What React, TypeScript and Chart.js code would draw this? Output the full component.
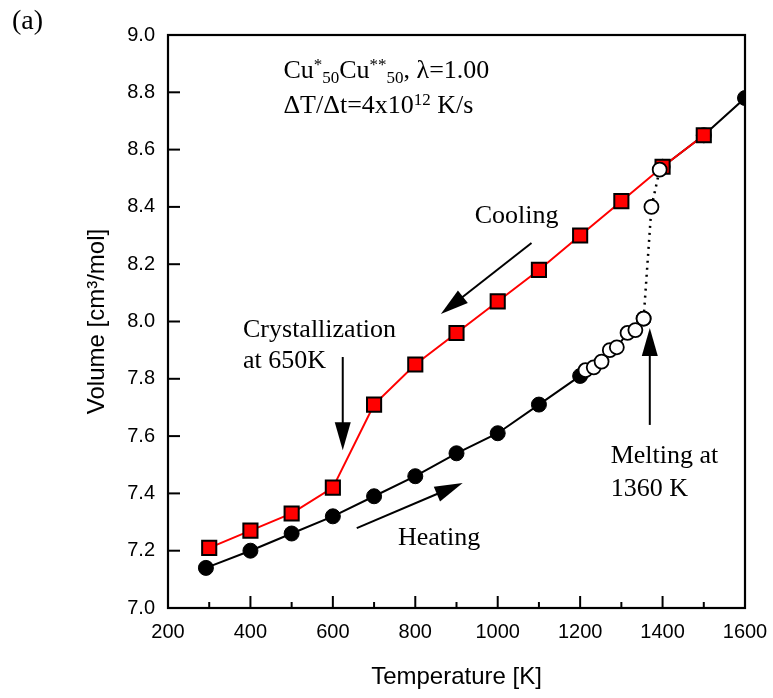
import React, { useEffect, useRef } from "react";
import { Chart, registerables } from "chart.js";

Chart.register(...registerables);

// ---- data ----
const coolingT = [300, 400, 500, 600, 700, 800, 900, 1000, 1100, 1200, 1300, 1400, 1500];
const coolingV = [7.21, 7.27, 7.33, 7.42, 7.71, 7.85, 7.96, 8.07, 8.18, 8.3, 8.42, 8.54, 8.65];

const heatingT = [292, 400, 500, 600, 700, 800, 900, 1000, 1100, 1200];
const heatingV = [7.14, 7.2, 7.26, 7.32, 7.39, 7.46, 7.54, 7.61, 7.71, 7.81];

const meltT = [1213, 1233, 1252, 1272, 1289, 1315, 1334, 1354];
const meltV = [7.83, 7.84, 7.86, 7.9, 7.91, 7.96, 7.97, 8.01];

const jumpT = [1354, 1373, 1393];
const jumpV = [8.01, 8.4, 8.53];

const liquidT = [1400, 1500, 1600];
const liquidV = [8.54, 8.65, 8.78];

const xTicks = [200, 400, 600, 800, 1000, 1200, 1400, 1600];
const yTicks = [7.0, 7.2, 7.4, 7.6, 7.8, 8.0, 8.2, 8.4, 8.6, 8.8, 9.0];

const SERIF = '"Liberation Serif", "Times New Roman", serif';
const SANS = '"Liberation Sans", Arial, sans-serif';

type Seg = { t: string; sup?: boolean; sub?: boolean };

// annotation texts (anchored in data coordinates: left x, baseline y)
const texts: { x: number; y: number; segs: Seg[] }[] = [
  {
    x: 480, y: 8.85,
    segs: [
      { t: "Cu" }, { t: "*", sup: true }, { t: "50", sub: true },
      { t: "Cu" }, { t: "**", sup: true }, { t: "50", sub: true },
      { t: ", λ=1.00" },
    ],
  },
  { x: 480, y: 8.728, segs: [{ t: "ΔT/Δt=4x10" }, { t: "12", sup: true }, { t: " K/s" }] },
  { x: 944, y: 8.344, segs: [{ t: "Cooling" }] },
  { x: 382, y: 7.946, segs: [{ t: "Crystallization" }] },
  { x: 382, y: 7.838, segs: [{ t: "at 650K" }] },
  { x: 758, y: 7.22, segs: [{ t: "Heating" }] },
  { x: 1274, y: 7.506, segs: [{ t: "Melting at" }] },
  { x: 1274, y: 7.391, segs: [{ t: "1360 K" }] },
];

// arrows (data coordinates: from -> tip)
const arrows: { x1: number; y1: number; x2: number; y2: number }[] = [
  { x1: 1082, y1: 8.274, x2: 862, y2: 8.026 },
  { x1: 624, y1: 7.876, x2: 624, y2: 7.551 },
  { x1: 658, y1: 7.279, x2: 915, y2: 7.436 },
  { x1: 1369, y1: 7.639, x2: 1369, y2: 7.977 },
];

function pts(xs: number[], ys: number[]) {
  return xs.map((x, i) => ({ x, y: ys[i] }));
}

function drawRich(ctx: CanvasRenderingContext2D, x: number, y: number, segs: Seg[], size: number) {
  let cx = x;
  ctx.textAlign = "left";
  ctx.textBaseline = "alphabetic";
  for (const s of segs) {
    const small = s.sup || s.sub;
    const fs = small ? Math.round(size * 0.65) : size;
    ctx.font = `${fs}px ${SERIF}`;
    const dy = s.sup ? -size * 0.3 : s.sub ? size * 0.19 : 0;
    ctx.fillText(s.t, cx, y + dy);
    cx += ctx.measureText(s.t).width;
  }
}

function drawArrow(ctx: CanvasRenderingContext2D, x1: number, y1: number, x2: number, y2: number) {
  const headLen = 28;
  const headW = 16;
  const a = Math.atan2(y2 - y1, x2 - x1);
  const c = Math.cos(a), s = Math.sin(a);
  const bx = x2 - headLen * c, by = y2 - headLen * s;
  ctx.strokeStyle = "#000";
  ctx.lineWidth = 2;
  ctx.beginPath();
  ctx.moveTo(x1, y1);
  ctx.lineTo(bx + 2 * c, by + 2 * s);
  ctx.stroke();
  ctx.fillStyle = "#000";
  ctx.beginPath();
  ctx.moveTo(x2, y2);
  ctx.lineTo(bx - (headW / 2) * s, by + (headW / 2) * c);
  ctx.lineTo(bx + (headW / 2) * s, by - (headW / 2) * c);
  ctx.closePath();
  ctx.fill();
}

const framePlugin = {
  id: "frame",
  afterDraw(chart: any) {
    const ctx: CanvasRenderingContext2D = chart.ctx;
    const { left, right, top, bottom } = chart.chartArea;
    const xs = chart.scales.x;
    const ys = chart.scales.y;
    ctx.save();
    // box
    ctx.strokeStyle = "#000";
    ctx.lineWidth = 2.2;
    ctx.strokeRect(left, top, right - left, bottom - top);
    ctx.lineWidth = 2;
    // x ticks (inward), major every 200, minor every 100
    for (let v = 200; v <= 1600; v += 100) {
      const px = xs.getPixelForValue(v);
      const len = v % 200 === 0 ? 12 : 6;
      ctx.beginPath();
      ctx.moveTo(px, bottom);
      ctx.lineTo(px, bottom - len);
      ctx.stroke();
    }
    // y ticks (inward)
    for (const v of yTicks) {
      const py = ys.getPixelForValue(v);
      ctx.beginPath();
      ctx.moveTo(left, py);
      ctx.lineTo(left + 12, py);
      ctx.stroke();
    }
    // arrows
    for (const a of arrows) {
      drawArrow(
        ctx,
        xs.getPixelForValue(a.x1), ys.getPixelForValue(a.y1),
        xs.getPixelForValue(a.x2), ys.getPixelForValue(a.y2)
      );
    }
    // texts
    ctx.fillStyle = "#000";
    for (const t of texts) {
      drawRich(ctx, xs.getPixelForValue(t.x), ys.getPixelForValue(t.y), t.segs, 26);
    }
    // panel label
    ctx.font = `28px ${SERIF}`;
    ctx.textAlign = "left";
    ctx.textBaseline = "alphabetic";
    ctx.fillText("(a)", 12, 29);
    ctx.restore();
  },
};

export default function App() {
  const ref = useRef<HTMLCanvasElement | null>(null);

  useEffect(() => {
    if (!ref.current) return;
    const chart = new Chart(ref.current, {
      type: "scatter",
      data: {
        datasets: [
          {
            label: "jump",
            data: pts(jumpT, jumpV),
            showLine: true,
            borderColor: "#000",
            borderWidth: 2.5,
            borderDash: [2, 5],
            pointStyle: "circle",
            pointRadius: 7,
            pointBackgroundColor: "#fff",
            pointBorderColor: "#000",
            pointBorderWidth: 1.8,
            order: 0,
          },
          {
            label: "melting",
            data: pts(meltT, meltV),
            showLine: true,
            borderColor: "#000",
            borderWidth: 2,
            pointStyle: "circle",
            pointRadius: 7,
            pointBackgroundColor: "#fff",
            pointBorderColor: "#000",
            pointBorderWidth: 1.8,
            order: 1,
          },
          {
            label: "cooling",
            data: pts(coolingT, coolingV),
            showLine: true,
            borderColor: "#ff0000",
            borderWidth: 2,
            pointStyle: "rect",
            pointRadius: 10,
            pointBackgroundColor: "#ff0000",
            pointBorderColor: "#000",
            pointBorderWidth: 2,
            order: 2,
          },
          {
            label: "heating",
            data: pts(heatingT, heatingV),
            showLine: true,
            borderColor: "#000",
            borderWidth: 2,
            pointStyle: "circle",
            pointRadius: 7.5,
            pointBackgroundColor: "#000",
            pointBorderColor: "#000",
            pointBorderWidth: 1,
            order: 3,
          },
          {
            label: "liquid",
            data: pts(liquidT, liquidV),
            showLine: true,
            borderColor: "#000",
            borderWidth: 2,
            pointStyle: "circle",
            pointRadius: 7.5,
            pointBackgroundColor: "#000",
            pointBorderColor: "#000",
            pointBorderWidth: 1,
            order: 4,
          },
        ],
      },
      options: {
        animation: false,
        responsive: false,
        devicePixelRatio: 1,
        layout: { padding: { left: 0, top: 35, right: 28, bottom: 0 } },
        plugins: { legend: { display: false }, tooltip: { enabled: false } },
        scales: {
          x: {
            type: "linear",
            min: 200,
            max: 1600,
            afterBuildTicks: (s: any) => {
              s.ticks = xTicks.map((v) => ({ value: v }));
            },
            afterFit: (s: any) => {
              s.height = 90;
              s.paddingLeft = 0;
              s.paddingRight = 0;
            },
            ticks: {
              color: "#000",
              font: { family: SANS, size: 20 },
              padding: 12,
              maxRotation: 0,
              callback: (v: any) => String(v),
            },
            grid: { display: false, drawTicks: false },
            border: { display: false },
            title: {
              display: true,
              text: "Temperature [K]",
              color: "#000",
              font: { family: SANS, size: 24 },
              padding: { top: 0, bottom: 6 },
            },
          },
          y: {
            type: "linear",
            min: 7,
            max: 9,
            afterBuildTicks: (s: any) => {
              s.ticks = yTicks.map((v) => ({ value: v }));
            },
            afterFit: (s: any) => {
              s.width = 168;
              s.paddingTop = 0;
              s.paddingBottom = 0;
            },
            ticks: {
              color: "#000",
              font: { family: SANS, size: 20 },
              padding: 13,
              callback: (v: any) => Number(v).toFixed(1),
            },
            grid: { display: false, drawTicks: false },
            border: { display: false },
            title: {
              display: true,
              text: "Volume [cm³/mol]",
              color: "#000",
              font: { family: SANS, size: 24 },
              padding: { top: 83, bottom: 0 },
            },
          },
        },
      },
      plugins: [framePlugin],
    } as any);
    return () => chart.destroy();
  }, []);

  return (
    <div style={{ position: "absolute", left: 0, top: 0, width: 773, height: 698, background: "#fff" }}>
      <canvas ref={ref} width={773} height={698} />
    </div>
  );
}
